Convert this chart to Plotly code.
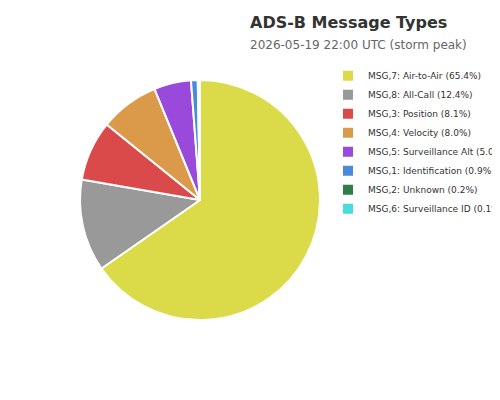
import plotly.graph_objects as go

# message type breakdown at storm peak
msg_types = ["MSG,7: Air-to-Air", "MSG,8: All-Call", "MSG,3: Position",
             "MSG,4: Velocity", "MSG,5: Surveillance Alt", "MSG,1: Identification",
             "MSG,2: Unknown", "MSG,6: Surveillance ID"]
shares = [65.4, 12.4, 8.1, 8.0, 5.0, 0.9, 0.2, 0.1]
colors = ["#dbdb4a", "#999999", "#db4a4a", "#db9a4a", "#9a4adb",
          "#4a8adb", "#2e7d4a", "#4adbdb"]

labels = [f"{m} ({s}%)" for m, s in zip(msg_types, shares)]

fig = go.Figure(go.Pie(
    labels=labels,
    values=shares,
    marker=dict(colors=colors, line=dict(color="white", width=2)),
    textinfo="none",
    sort=False,
    direction="clockwise",
    rotation=0,
    hoverinfo="label",
    domain=dict(x=[0.144, 0.624], y=[0.22, 0.82]),
))

fig.update_layout(
    width=500, height=400,
    margin=dict(l=0, r=0, t=0, b=0, autoexpand=False),
    paper_bgcolor="white",
    font=dict(family="DejaVu Sans", color="#333333"),
    title=dict(
        text="<b>ADS-B Message Types</b><br><span style='font-size:12px;color:#666666'>2026-05-19 22:00 UTC (storm peak)</span>",
        x=0.484, xanchor="left", y=0.95, yanchor="top",
        font=dict(size=16, color="#333333"),
    ),
    legend=dict(
        x=0.64, xanchor="left", y=0.867, yanchor="top",
        font=dict(size=9, color="#333333"),
        tracegroupgap=0,
    ),
)

fig.write_html("out.html")
